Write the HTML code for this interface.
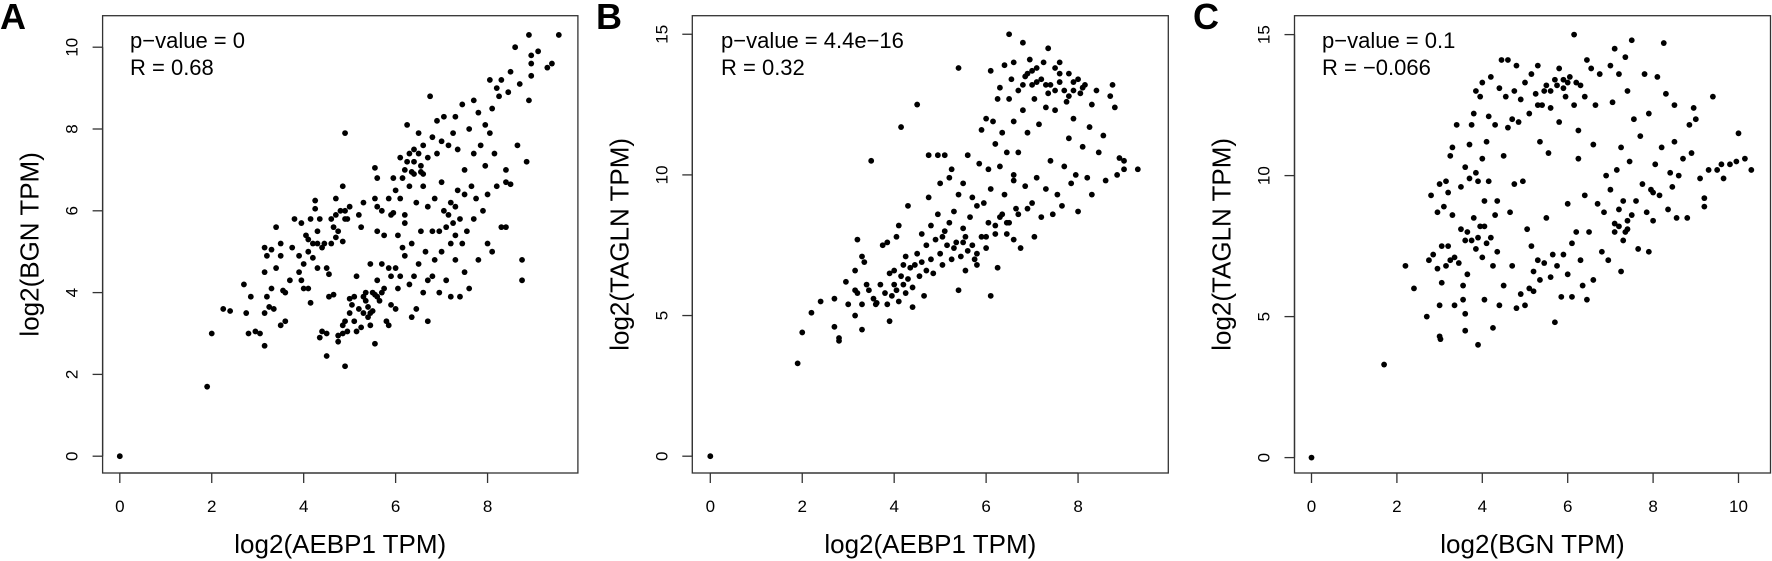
<!DOCTYPE html>
<html><head><meta charset="utf-8"><title>Correlation scatter plots</title>
<style>
html,body{margin:0;padding:0;background:#fff;}
svg{display:block;font-family:"Liberation Sans",Arial,sans-serif;}
</style></head>
<body>
<svg id="fig" width="1772" height="561" viewBox="0 0 1772 561"></svg>
<script>
const panelAPoints = [[0,0],[1.9,1.7],[2.0,3.0],[2.25,3.6],[2.4,3.55],[2.7,4.2],[2.75,3.5],[2.8,3.0],[2.85,3.9],[2.95,3.05],[3.05,3.0],[3.15,2.7],[3.15,3.5],[3.15,4.5],[3.15,5.1],[3.2,4.9],[3.2,3.9],[3.25,3.65],[3.3,5.05],[3.3,4.1],[3.35,3.6],[3.4,4.6],[3.4,5.6],[3.5,5.2],[3.5,4.9],[3.5,3.2],[3.55,4.05],[3.6,3.3],[3.6,4.0],[3.7,4.3],[3.75,5.1],[3.8,5.8],[3.9,4.9],[3.9,4.5],[3.95,4.3],[3.95,5.7],[4.0,4.1],[4.0,4.7],[4.05,5.4],[4.1,5.3],[4.1,5.0],[4.1,4.1],[4.15,3.75],[4.15,5.8],[4.2,5.2],[4.2,4.85],[4.25,6.05],[4.25,6.25],[4.3,5.2],[4.3,4.6],[4.3,5.5],[4.35,5.8],[4.4,5.1],[4.45,5.2],[4.4,3.05],[4.35,2.9],[4.5,3.0],[4.5,4.6],[4.55,4.45],[4.6,5.2],[4.6,5.8],[4.65,5.6],[4.7,5.35],[4.5,2.45],[4.55,3.9],[4.65,3.95],[4.7,5.9],[4.7,6.3],[4.75,5.5],[4.8,6.0],[4.85,5.25],[4.85,6.6],[4.9,5.8],[4.9,6.0],[4.95,5.8],[5.0,6.1],[4.9,7.9],[4.85,3.2],[4.75,2.8],[4.75,2.95],[4.85,3.0],[4.9,2.2],[4.9,3.3],[4.95,3.05],[5.0,3.5],[5.0,3.85],[5.05,3.7],[5.1,3.3],[5.1,3.9],[5.15,4.4],[5.15,3.05],[5.2,3.6],[5.2,5.9],[5.25,3.15],[5.25,5.6],[5.3,3.5],[5.3,3.9],[5.3,6.2],[5.35,3.8],[5.35,4.0],[5.4,3.4],[5.4,3.65],[5.45,3.2],[5.45,3.5],[5.45,4.7],[5.5,3.55],[5.5,4.0],[5.55,2.75],[5.55,3.95],[5.55,6.3],[5.6,3.9],[5.6,4.3],[5.6,6.1],[5.65,3.8],[5.6,5.5],[5.55,7.05],[5.6,6.8],[5.7,4.0],[5.7,4.7],[5.7,6.0],[5.75,4.1],[5.75,5.4],[5.8,3.3],[5.85,3.2],[5.85,4.6],[5.85,6.3],[5.9,3.7],[5.9,4.4],[5.95,5.95],[5.95,6.8],[6.0,4.6],[6.0,3.6],[6.0,6.5],[6.05,5.4],[6.05,4.1],[6.1,4.4],[6.1,6.3],[6.1,7.3],[6.15,5.1],[6.15,6.8],[6.2,4.9],[6.2,7.0],[6.2,5.7],[6.25,7.2],[6.3,4.2],[6.3,6.6],[6.25,8.1],[6.3,7.4],[6.35,3.4],[6.35,5.2],[6.4,4.4],[6.4,6.9],[6.4,7.2],[6.45,3.6],[6.45,6.2],[6.5,7.4],[6.5,4.7],[6.5,7.9],[6.55,5.5],[6.55,7.1],[6.6,4.0],[6.6,6.6],[6.6,7.6],[6.65,5.0],[6.7,4.3],[6.7,7.3],[6.7,3.3],[6.75,8.8],[6.8,4.4],[6.8,5.5],[6.8,7.8],[6.85,4.8],[6.85,6.3],[6.9,8.2],[6.9,7.4],[6.95,4.0],[6.95,5.5],[7.0,6.7],[7.0,7.7],[7.0,5.0],[7.05,8.3],[7.05,6.0],[7.1,5.6],[7.1,4.3],[7.15,7.6],[7.2,3.9],[7.2,5.2],[7.2,6.2],[7.25,7.9],[7.25,5.7],[7.3,4.8],[7.3,8.3],[7.3,5.4],[7.35,6.5],[7.35,7.5],[7.4,3.9],[7.4,5.8],[7.45,5.2],[7.45,8.6],[7.5,6.4],[7.5,7.0],[7.5,4.5],[7.55,5.5],[7.6,8.0],[7.6,4.1],[7.65,6.6],[7.7,8.7],[7.7,5.8],[7.7,7.4],[7.75,6.3],[7.8,8.4],[7.8,4.8],[7.85,7.6],[7.9,6.0],[7.95,8.1],[7.95,7.1],[8.0,5.2],[8.0,6.4],[8.05,9.2],[8.05,7.9],[8.1,5.0],[8.1,8.5],[8.15,7.4],[8.2,9.0],[8.2,6.6],[8.25,8.8],[8.3,9.2],[8.3,5.6],[8.4,6.7],[8.4,7.0],[8.4,5.6],[8.45,8.9],[8.5,6.65],[8.5,9.4],[8.6,10.0],[8.65,7.6],[8.7,9.1],[8.75,4.8],[8.75,4.3],[8.85,7.2],[8.9,10.3],[8.9,8.7],[8.95,9.6],[8.95,9.3],[8.95,9.8],[9.1,9.9],[9.3,9.5],[9.4,9.6],[9.55,10.3],[6.6,6.9],[6.4,7.5],[6.35,6.95],[6.55,6.95],[6.2,5.9],[5.9,5.9],[6.7,6.1],[7.15,5.9],[7.3,6.1]];
const panelBPoints = [[0,0],[1.9,3.3],[2.0,4.4],[2.2,5.1],[2.4,5.5],[2.7,4.6],[2.7,5.6],[2.8,4.2],[2.8,4.1],[2.95,6.2],[3.0,5.4],[3.15,6.6],[3.15,5.9],[3.15,5.0],[3.2,7.7],[3.2,5.8],[3.3,7.1],[3.3,5.4],[3.3,4.5],[3.35,6.9],[3.4,6.1],[3.45,5.9],[3.5,10.5],[3.55,5.6],[3.6,5.4],[3.62,5.45],[3.7,6.1],[3.75,7.5],[3.8,5.8],[3.85,7.6],[3.85,5.4],[3.9,6.5],[3.9,4.8],[3.95,5.7],[4.0,6.1],[4.0,6.6],[4.05,7.8],[4.05,5.9],[4.1,8.2],[4.1,5.5],[4.15,6.4],[4.15,11.7],[4.2,6.8],[4.2,6.1],[4.25,7.1],[4.25,5.8],[4.3,8.9],[4.3,6.3],[4.35,6.7],[4.4,6.0],[4.4,5.3],[4.45,6.8],[4.5,12.5],[4.5,7.2],[4.55,6.4],[4.6,7.9],[4.6,6.9],[4.65,5.7],[4.7,6.6],[4.7,7.5],[4.75,9.2],[4.75,10.7],[4.8,8.2],[4.8,7.0],[4.85,6.5],[4.9,7.7],[4.95,10.7],[4.95,8.6],[5.0,7.2],[5.0,9.7],[5.05,6.8],[5.05,7.8],[5.1,8.0],[5.1,10.7],[5.15,7.5],[5.2,9.9],[5.2,8.3],[5.25,7.0],[5.25,10.2],[5.3,7.4],[5.3,8.7],[5.35,7.6],[5.4,9.3],[5.4,5.9],[5.4,13.8],[5.45,7.1],[5.5,8.1],[5.5,9.7],[5.55,7.8],[5.55,6.6],[5.6,10.7],[5.6,7.3],[5.65,8.5],[5.7,9.2],[5.7,7.5],[5.75,7.0],[5.8,8.9],[5.8,6.8],[5.85,10.4],[5.9,7.8],[5.9,11.6],[5.95,9.0],[6.0,12.0],[6.0,7.8],[6.05,10.2],[6.05,8.3],[6.1,5.7],[6.1,9.5],[6.1,13.7],[6.15,11.9],[6.2,7.9],[6.2,11.1],[6.25,6.7],[6.25,12.7],[6.3,8.5],[6.3,10.3],[6.3,13.1],[6.35,11.5],[6.35,8.6],[6.4,9.3],[6.4,13.9],[6.45,7.9],[6.45,10.8],[6.5,15.0],[6.5,12.7],[6.5,8.3],[6.55,13.4],[6.6,9.8],[6.6,14.0],[6.6,11.9],[6.65,8.8],[6.7,10.8],[6.7,13.0],[6.75,7.4],[6.8,14.7],[6.8,12.3],[6.85,9.6],[6.85,13.5],[6.9,8.8],[6.9,11.5],[6.95,14.1],[7.0,13.2],[7.0,9.0],[7.05,12.7],[7.05,7.8],[7.1,13.8],[7.1,9.9],[7.15,11.8],[7.2,13.4],[7.2,8.5],[7.25,14.0],[7.3,12.4],[7.3,9.5],[7.35,14.5],[7.4,13.2],[7.4,10.5],[7.45,8.6],[7.5,13.8],[7.5,12.3],[7.55,9.3],[7.6,13.3],[7.6,14.0],[7.65,8.9],[7.7,13.0],[7.7,10.3],[7.75,12.6],[7.8,13.6],[7.8,11.3],[7.85,9.7],[7.9,13.3],[7.9,12.0],[7.95,10.0],[8.0,13.4],[8.0,8.7],[8.05,12.9],[8.1,11.0],[8.15,13.2],[8.2,9.9],[8.25,11.7],[8.3,12.5],[8.3,9.3],[8.4,13.0],[8.45,10.8],[8.55,11.4],[8.6,9.8],[8.7,12.8],[8.75,13.2],[8.8,12.4],[8.85,10.0],[8.9,10.6],[9.0,10.5],[9.0,10.2],[9.3,10.2],[6.6,7.7],[6.0,7.4],[5.8,7.2],[5.5,7.6],[7.0,13.7],[7.5,13.0],[7.3,13.2],[6.9,13.6],[7.8,12.8],[8.1,13.1],[6.6,10.0],[6.7,8.6],[6.45,8.3],[6.2,8.2],[7.6,13.6],[7.1,13.3],[7.9,13.0],[6.8,13.2],[7.35,12.9]];
const panelCPoints = [[0,0],[1.7,3.3],[2.2,6.8],[2.4,6.0],[2.7,5.0],[2.75,7.0],[2.8,9.3],[2.85,7.2],[2.95,6.7],[2.95,8.7],[3.0,5.4],[3.0,4.3],[3.02,4.2],[3.0,9.7],[3.05,7.5],[3.05,6.2],[3.1,8.9],[3.15,6.8],[3.15,9.8],[3.2,7.5],[3.2,9.4],[3.25,7.0],[3.25,10.7],[3.3,8.6],[3.3,11.0],[3.35,5.4],[3.35,7.1],[3.4,11.8],[3.45,6.9],[3.5,9.6],[3.5,8.1],[3.55,5.6],[3.55,6.1],[3.6,10.3],[3.6,7.7],[3.6,4.5],[3.6,5.1],[3.65,8.0],[3.65,6.5],[3.7,9.9],[3.7,11.1],[3.75,7.7],[3.75,11.8],[3.8,8.5],[3.8,12.2],[3.85,10.1],[3.85,7.4],[3.85,13.0],[3.9,7.8],[3.9,9.8],[3.9,4.0],[3.95,8.2],[3.95,12.8],[4.0,10.6],[4.0,7.1],[4.0,13.3],[4.05,8.2],[4.05,9.1],[4.05,5.6],[4.1,11.2],[4.1,7.6],[4.15,12.1],[4.15,9.8],[4.2,7.8],[4.2,13.5],[4.25,6.8],[4.25,4.6],[4.3,8.6],[4.3,11.8],[4.35,9.1],[4.35,7.3],[4.4,13.1],[4.4,5.4],[4.45,14.1],[4.5,10.7],[4.5,6.1],[4.55,12.8],[4.6,14.1],[4.6,11.7],[4.65,8.7],[4.7,6.8],[4.7,12.0],[4.75,13.0],[4.75,9.7],[4.8,5.3],[4.8,13.9],[4.85,11.9],[4.9,5.8],[4.9,12.7],[4.95,9.8],[5.0,13.3],[5.0,5.4],[5.05,8.1],[5.1,6.0],[5.1,12.2],[5.15,7.5],[5.15,13.6],[5.2,6.6],[5.2,5.9],[5.25,12.9],[5.3,7.0],[5.3,13.9],[5.35,6.3],[5.35,11.2],[5.4,12.5],[5.45,6.9],[5.5,8.5],[5.5,13.2],[5.55,10.8],[5.6,6.4],[5.6,12.4],[5.65,7.2],[5.7,13.4],[5.7,4.8],[5.75,6.8],[5.8,13.8],[5.8,11.9],[5.85,5.7],[5.9,7.2],[5.9,13.1],[5.95,12.8],[6.0,6.5],[6.0,9.0],[6.05,13.5],[6.1,7.6],[6.1,5.7],[6.15,15.0],[6.15,12.5],[6.2,8.0],[6.25,10.6],[6.25,11.6],[6.3,13.2],[6.3,7.0],[6.35,6.1],[6.4,12.8],[6.4,9.3],[6.45,5.6],[6.45,14.1],[6.5,8.0],[6.55,13.8],[6.6,11.1],[6.6,6.3],[6.65,12.5],[6.7,9.0],[6.75,13.6],[6.8,7.3],[6.85,8.7],[6.9,10.0],[6.95,7.0],[7.0,9.5],[7.0,13.9],[7.05,12.6],[7.1,8.0],[7.1,14.5],[7.15,10.2],[7.2,8.8],[7.2,13.6],[7.25,11.0],[7.25,6.6],[7.3,7.7],[7.3,9.1],[7.35,14.2],[7.4,8.1],[7.4,13.0],[7.45,10.5],[7.5,8.6],[7.5,14.8],[7.55,12.0],[7.6,9.1],[7.65,7.4],[7.7,11.4],[7.75,9.7],[7.8,13.6],[7.85,8.7],[7.9,7.3],[7.9,12.2],[7.95,9.5],[8.0,8.4],[8.05,10.4],[8.1,13.5],[8.15,9.3],[8.2,11.0],[8.25,14.7],[8.3,12.9],[8.35,8.8],[8.4,10.1],[8.45,9.6],[8.5,11.2],[8.5,12.5],[8.55,8.5],[8.6,10.0],[8.7,10.6],[8.8,8.5],[8.85,11.8],[8.9,10.8],[8.95,12.4],[9.0,12.0],[9.1,9.9],[9.2,9.2],[9.2,8.9],[9.3,10.2],[9.4,12.8],[9.5,10.2],[9.6,10.4],[9.65,9.9],[9.8,10.4],[9.95,10.5],[10.0,11.5],[10.15,10.6],[10.3,10.2],[5.6,13.0],[5.3,12.5],[6.2,13.3],[5.9,13.4],[7.4,8.4],[7.2,8.2],[8.0,9.4],[5.75,13.2],[6.0,13.3],[5.45,13.0],[7.35,8.0],[7.1,8.3]];
const panelAXTicks = [0,2,4,6,8];
const panelAYTicks = [0,2,4,6,8,10];
const panelBXTicks = [0,2,4,6,8];
const panelBYTicks = [0,5,10,15];
const panelCXTicks = [0,2,4,6,8,10];
const panelCYTicks = [0,5,10,15];
const panelAStats = ["p\u2212value = 0","R = 0.68"];
const panelBStats = ["p\u2212value = 4.4e\u221216","R = 0.32"];
const panelCStats = ["p\u2212value = 0.1","R = \u22120.066"];

const NS="http://www.w3.org/2000/svg";
const svg=document.getElementById('fig');
function mk(tag,attrs,parent){const e=document.createElementNS(NS,tag);for(const k in attrs)e.setAttribute(k,attrs[k]);(parent||svg).appendChild(e);return e;}

const panels=[
 {id:'a',letter:'A',letterX:0,box:[102.6,15.7,577.9,473],px0:119.8,pxPer:45.97,py0:456.2,pyPer:40.9,pts:panelAPoints,xt:panelAXTicks,yt:panelAYTicks,stats:panelAStats,statX:130,xl:'log2(AEBP1 TPM)',yl:'log2(BGN TPM)'},
 {id:'b',letter:'B',letterX:596,box:[692.3,15.7,1168.3,473],px0:710.3,pxPer:45.97,py0:456.2,pyPer:28.13,pts:panelBPoints,xt:panelBXTicks,yt:panelBYTicks,stats:panelBStats,statX:721,xl:'log2(AEBP1 TPM)',yl:'log2(TAGLN TPM)'},
 {id:'c',letter:'C',letterX:1193,box:[1294.5,15.7,1770.5,473],px0:1311.5,pxPer:42.7,py0:457.6,pyPer:28.2,pts:panelCPoints,xt:panelCXTicks,yt:panelCYTicks,stats:panelCStats,statX:1322,xl:'log2(BGN TPM)',yl:'log2(TAGLN TPM)'}
];

panels.forEach(p=>{
  const g=mk('g',{});
  
  
  const sx=v=>p.px0+v*p.pxPer, sy=v=>p.py0-v*p.pyPer;
  const [l,t,r,b]=p.box;
  const lt=mk('text',{x:p.letterX,y:29,'font-size':36,'font-weight':'bold',fill:'#000'},g);
  lt.textContent=p.letter;
  
  
  const frame=mk('rect',{x:l,y:t,width:r-l,height:b-t,fill:'none',stroke:'#333',"stroke-width":1.3},g);
  
  
  const xa=mk('g',{},g);
  
  
  mk('line',{x1:sx(p.xt[0]),x2:sx(p.xt[p.xt.length-1]),y1:b,y2:b,stroke:'#333','stroke-width':1.3},xa);
  p.xt.forEach(v=>{
    mk('line',{x1:sx(v),x2:sx(v),y1:b,y2:b+10,stroke:'#333','stroke-width':1.3},xa);
    const tx=mk('text',{x:sx(v),y:512,'font-size':17,'text-anchor':'middle',fill:'#000'},xa);
    tx.textContent=v;
    
    
  });
  const ya=mk('g',{},g);
  
  
  mk('line',{x1:l,x2:l,y1:sy(p.yt[0]),y2:sy(p.yt[p.yt.length-1]),stroke:'#333','stroke-width':1.3},ya);
  p.yt.forEach(v=>{
    mk('line',{x1:l-10,x2:l,y1:sy(v),y2:sy(v),stroke:'#333','stroke-width':1.3},ya);
    const cx=l-25;
    const tx=mk('text',{x:cx,y:sy(v),'font-size':17,'text-anchor':'middle',transform:`rotate(-90 ${cx} ${sy(v)})`,fill:'#000'},ya);
    tx.textContent=v;
    
    
  });
  const xt=mk('text',{x:(l+r)/2,y:553,'font-size':26,'text-anchor':'middle',fill:'#000'},g);
  xt.textContent=p.xl;
  
  
  const ycx=l-64, ycy=(t+b)/2;
  const yt=mk('text',{x:ycx,y:ycy,'font-size':26,'text-anchor':'middle',transform:`rotate(-90 ${ycx} ${ycy})`,fill:'#000'},g);
  yt.textContent=p.yl;
  
  
  p.stats.forEach((s,i)=>{
    const st=mk('text',{x:p.statX,y:48+i*27,'font-size':22,fill:'#000'},g);
    st.textContent=s;
    
    
  });
  const pg=mk('g',{fill:'#000'},g);
  
  
  p.pts.forEach(pt=>{
    const c=mk('circle',{cx:sx(pt[0]),cy:sy(pt[1]),r:2.9},pg);
    
    
  });
});
</script>
</body></html>
